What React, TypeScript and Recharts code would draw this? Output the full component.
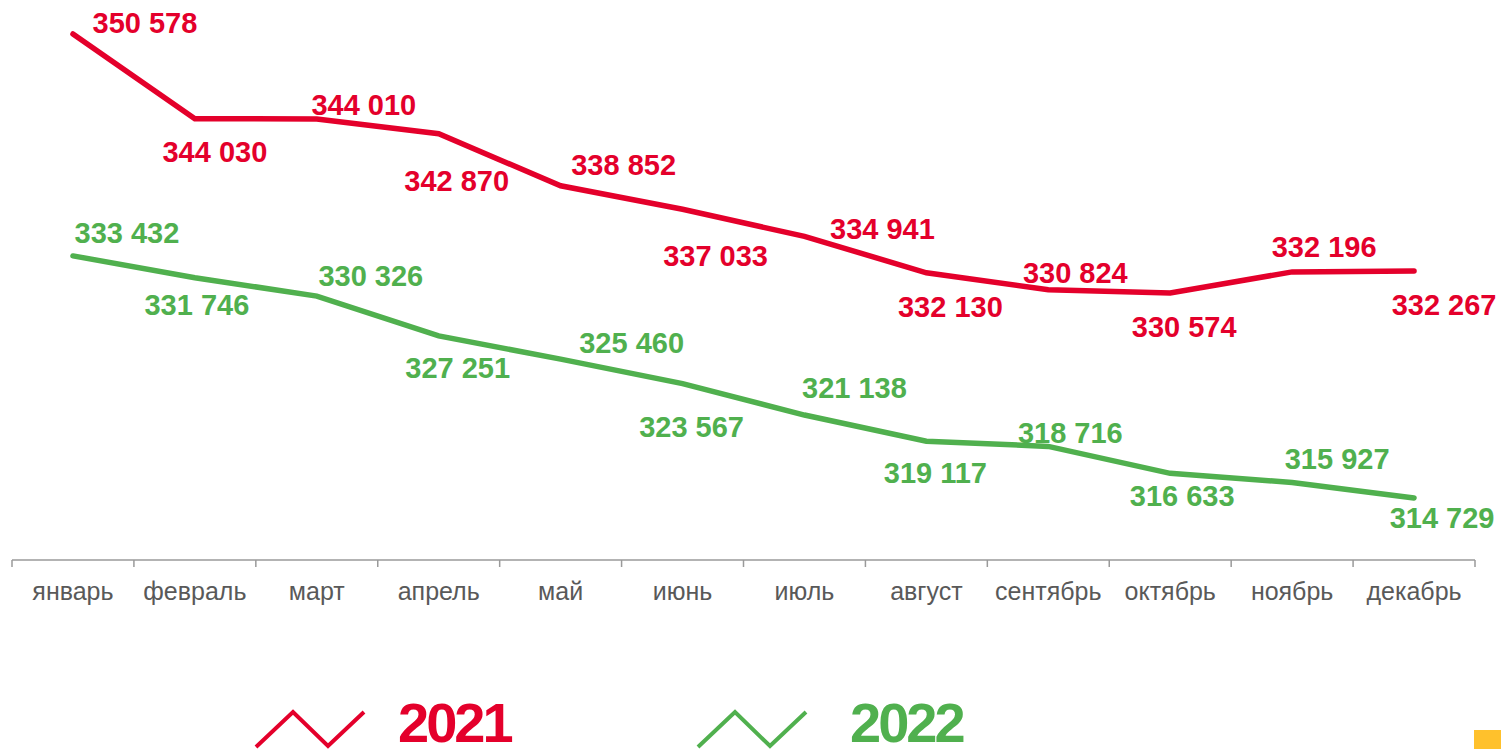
import React from 'react';
import { LineChart, Line, XAxis, YAxis, LabelList } from 'recharts';

const months = [
  'январь', 'февраль', 'март', 'апрель', 'май', 'июнь',
  'июль', 'август', 'сентябрь', 'октябрь', 'ноябрь', 'декабрь',
];
const values2021 = [350578, 344030, 344010, 342870, 338852, 337033, 334941, 332130, 330824, 330574, 332196, 332267];
const values2022 = [333432, 331746, 330326, 327251, 325460, 323567, 321138, 319117, 318716, 316633, 315927, 314729];
const seriesNames = ['2021', '2022'];

// where each value label sits relative to its point (dx, dy)
const shift2021 = [[72, -11], [20, 33], [47, -14], [18, 47], [63, -21], [33, 47], [78, -7], [24, 34], [27, -17], [14, 34], [32, -25], [30, 34]];
const shift2022 = [[54, -23], [2, 27], [54, -20], [19, 32], [71, -16], [9, 43], [50, -27], [9, 32], [22, -13], [12, 23], [45, -24], [28, 20]];

const RED = '#E4002B';
const GREEN = '#50B04E';
const W = 1501;
const H = 749;
const MARGIN = { top: 10, right: 26, bottom: 149, left: 12 };
const BAND = (W - MARGIN.left - MARGIN.right) / months.length;

const data = months.map((m, i) => ({
  pos: i + 0.5,
  month: m,
  y2021: values2021[i],
  y2022: values2022[i],
}));

const fmt = (v: number) => String(v).replace(/\B(?=(\d{3})+(?!\d))/g, ' ');

const makeLabel = (shift: number[][], color: string) => (props: any) => {
  const { x, y, value, index } = props;
  const [dx, dy] = shift[index] || [0, 0];
  return (
    <text
      x={x + dx}
      y={y + dy}
      fill={color}
      textAnchor="middle"
      dominantBaseline="central"
      fontSize={29}
      fontWeight="bold"
      fontFamily="'Liberation Sans', Arial, sans-serif"
    >
      {fmt(value)}
    </text>
  );
};

const MonthTick = (props: any) => {
  const { x, y, payload } = props;
  const i = payload.value;
  if (i >= months.length) return <g />;
  return (
    <text
      x={x + BAND / 2}
      y={y + 31}
      textAnchor="middle"
      fill="#595959"
      fontSize={25}
      fontFamily="'Liberation Sans', Arial, sans-serif"
    >
      {months[i]}
    </text>
  );
};

const legendItems = [
  { name: seriesNames[0], color: RED, zig: 256, text: 398 },
  { name: seriesNames[1], color: GREEN, zig: 698, text: 850 },
];

export default function App() {
  return (
    <div style={{ position: 'absolute', left: 0, top: 0, width: W, height: H, background: '#fff', overflow: 'hidden' }}>
      <LineChart width={W} height={H} data={data} margin={MARGIN}>
        <XAxis
          dataKey="pos"
          type="number"
          domain={[0, 12]}
          ticks={[0, 1, 2, 3, 4, 5, 6, 7, 8, 9, 10, 11, 12]}
          interval={0}
          height={40}
          stroke="#9A9A9A"
          strokeWidth={1.5}
          tickSize={7}
          tick={<MonthTick />}
          allowDataOverflow
        />
        <YAxis hide width={0} domain={[309940, 352430]} allowDataOverflow />
        <Line
          dataKey="y2021"
          name={seriesNames[0]}
          stroke={RED}
          strokeWidth={5.5}
          strokeLinecap="round"
          dot={false}
          isAnimationActive={false}
        >
          <LabelList dataKey="y2021" content={makeLabel(shift2021, RED)} />
        </Line>
        <Line
          dataKey="y2022"
          name={seriesNames[1]}
          stroke={GREEN}
          strokeWidth={5.5}
          strokeLinecap="round"
          dot={false}
          isAnimationActive={false}
        >
          <LabelList dataKey="y2022" content={makeLabel(shift2022, GREEN)} />
        </Line>
      </LineChart>
      {/* legend + corner mark */}
      <svg width={W} height={H} style={{ position: 'absolute', left: 0, top: 0, pointerEvents: 'none' }}>
        {legendItems.map((it) => (
          <g key={it.name}>
            <polyline
              points={`${it.zig},747 ${it.zig + 37},712 ${it.zig + 72},746 ${it.zig + 108},712`}
              fill="none"
              stroke={it.color}
              strokeWidth={4}
            />
            <text
              x={it.text}
              y={742}
              fill={it.color}
              fontSize={56}
              fontWeight="bold"
              letterSpacing={-3}
              fontFamily="'Liberation Sans', Arial, sans-serif"
            >
              {it.name}
            </text>
          </g>
        ))}
        <rect x={1474} y={730} width={27} height={19} fill="#FFC12C" />
      </svg>
    </div>
  );
}
